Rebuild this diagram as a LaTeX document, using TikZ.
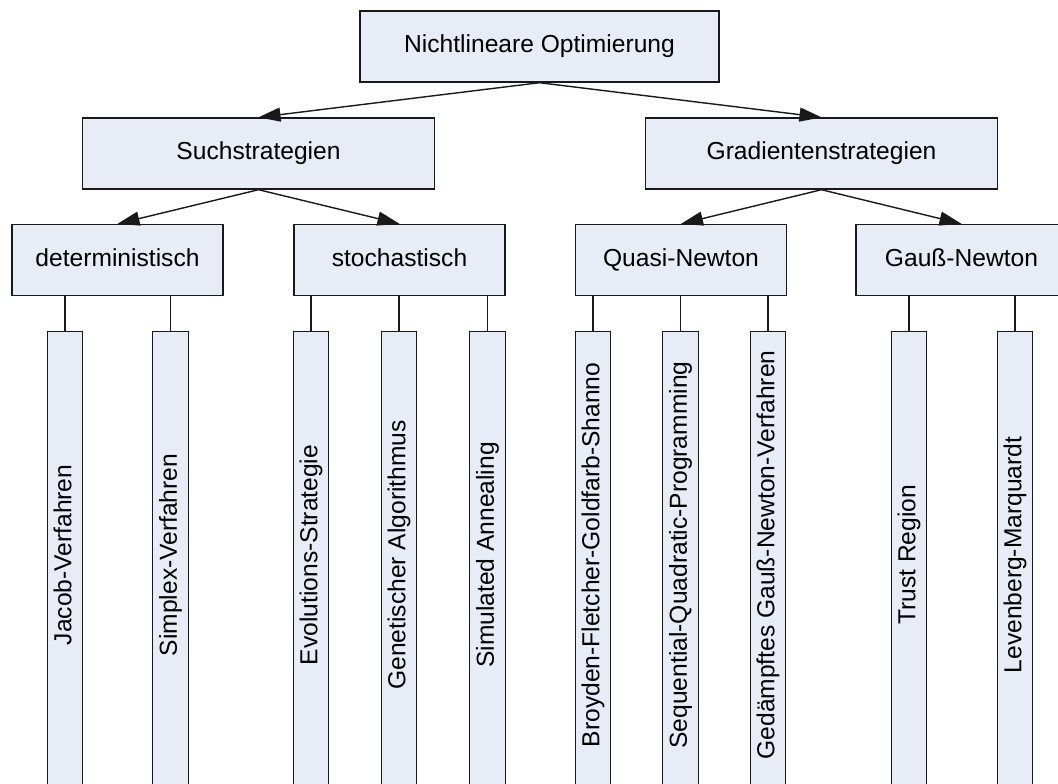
\documentclass[tikz,border=0pt]{standalone}
\usepackage{fontspec}
\setmainfont{Liberation Sans}
\usepackage{xcolor}
\usetikzlibrary{arrows.meta}
\definecolor{optFill}{RGB}{232,236,246}
\definecolor{optLine}{RGB}{25,25,25}

\begin{document}
\begin{tikzpicture}[
  box/.style={draw=optLine, fill=optFill, line width=0.8pt, minimum height=1.42cm, text height=0.9em, text depth=0.18em, font=\fontsize{14}{17}\selectfont},
  leaf/.style={box, rotate=90, anchor=east, inner sep=1pt, minimum height=0.71cm, minimum width=9.39cm, execute at begin node={\hspace*{4.4mm}}},
  arr/.style={draw=optLine, line width=0.8pt, -{Triangle[length=4.4mm,width=2.8mm]}}
]
\useasboundingbox (0,0) rectangle (21.16,-15.66);
\node[box, minimum width=7.18cm] (opt) at (10.79,-0.93) {Nichtlineare Optimierung};
\node[box, minimum width=7.03cm] (such) at (5.17,-3.07) {Suchstrategien};
\node[box, minimum width=7.03cm] (grad) at (16.43,-3.07) {Gradientenstrategien};
\node[box, minimum width=4.22cm] (det) at (2.35,-5.20) {deterministisch};
\node[box, minimum width=4.22cm] (stoch) at (7.99,-5.20) {stochastisch};
\node[box, minimum width=4.22cm] (quasi) at (13.62,-5.20) {Quasi-Newton};
\node[box, minimum width=4.22cm] (gauss) at (19.23,-5.20) {Gauß-Newton};
\draw[arr] (opt.south) -- (such.north);
\draw[arr] (opt.south) -- (grad.north);
\draw[arr] (such.south) -- (det.north);
\draw[arr] (such.south) -- (stoch.north);
\draw[arr] (grad.south) -- (quasi.north);
\draw[arr] (grad.south) -- (gauss.north);
% leaves hang from their parents
\foreach \nm/\x/\up/\txt in {jacob/1.30/det/Jacob-Verfahren,
    simplex/3.41/det/Simplex-Verfahren,
    evo/6.22/stoch/Evolutions-Strategie,
    gen/7.98/stoch/Genetischer Algorithmus,
    sim/9.75/stoch/Simulated Annealing,
    bfgs/11.86/quasi/Broyden-Fletcher-Goldfarb-Shanno,
    sqp/13.61/quasi/Sequential-Quadratic-Programming,
    gedgn/15.36/quasi/Gedämpftes Gauß-Newton-Verfahren,
    trust/18.18/gauss/Trust Region,
    lm/20.30/gauss/Levenberg-Marquardt}
{
  \node[leaf] (\nm) at (\x,-6.61) {\txt};
  \draw[optLine, line width=0.8pt] (\up.south -| \nm.east) -- (\nm.east);
}
\end{tikzpicture}
\end{document}
